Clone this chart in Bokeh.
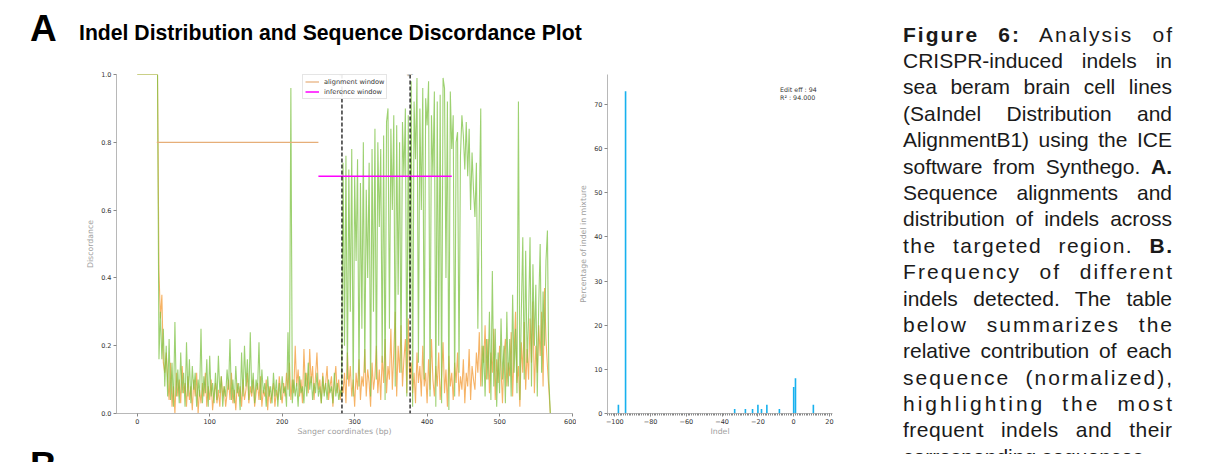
from bokeh.plotting import figure
from bokeh.models import (Span, Label, Legend, LegendItem, Div,
                          SingleIntervalTicker, NumeralTickFormatter, Range1d)
from bokeh.layouts import row, column
from bokeh.embed import file_html
from bokeh.resources import INLINE

# ---------------- data: discordance plot ----------------
# Sanger coordinates (bp), one value every 2 bp
bp = list(range(0, 572, 2))

# discordance of the edited sample (green)
edited = [
    1.0, 1.0, 1.0, 1.0, 1.0, 1.0, 1.0, 1.0, 1.0, 1.0, 1.0, 1.0, 1.0, 1.0, 1.0,
    0.16, 0.30, 0.16, 0.25, 0.08, 0.20, 0.05, 0.22, 0.04, 0.15,
    0.02, 0.27, 0.05, 0.13, 0.03, 0.18, 0.06, 0.12, 0.02, 0.21,
    0.05, 0.16, 0.03, 0.14, 0.07, 0.12, 0.02, 0.10, 0.05, 0.25,
    0.03, 0.11, 0.06, 0.16, 0.02, 0.17, 0.05, 0.09, 0.03, 0.12,
    0.04, 0.17, 0.06, 0.11, 0.02, 0.08, 0.05, 0.13, 0.07, 0.22,
    0.04, 0.10, 0.03, 0.14, 0.06, 0.09, 0.01, 0.18, 0.05, 0.20,
    0.08, 0.16, 0.04, 0.24, 0.06, 0.12, 0.03, 0.10, 0.07, 0.21,
    0.04, 0.13, 0.06, 0.09, 0.02, 0.11, 0.05, 0.08, 0.03, 0.12,
    0.05, 0.10, 0.02, 0.09, 0.04, 0.11, 0.06, 0.08, 0.02, 0.24,
    0.05, 0.96, 0.03, 0.10, 0.05, 0.09, 0.02, 0.11, 0.06, 0.08,
    0.03, 0.12, 0.05, 0.15, 0.07, 0.11, 0.04, 0.09, 0.06, 0.12,
    0.05, 0.08, 0.03, 0.11, 0.05, 0.09, 0.04, 0.10, 0.06, 0.08,
    0.03, 0.12, 0.05, 0.09, 0.04, 0.07, 0.05,
    0.74, 0.20, 0.76, 0.10, 0.72, 0.30, 0.78, 0.05, 0.70, 0.45,
    0.75, 0.08, 0.68, 0.25, 0.80, 0.12, 0.66, 0.40, 0.74, 0.05,
    0.78, 0.30, 0.84, 0.10, 0.80, 0.55, 0.78, 0.15, 0.82, 0.04,
    0.86, 0.90, 0.25, 0.84, 0.60, 0.88, 0.08, 0.85, 0.35, 0.80,
    0.12, 0.86, 0.70, 0.90, 0.05, 0.88, 0.30,
    0.98, 0.02, 0.92, 0.75, 0.99, 0.15, 0.90, 0.60, 0.96, 0.10,
    0.93, 0.85, 0.98, 0.05, 0.88, 0.70, 0.95, 0.02, 0.92, 0.20,
    0.94, 0.03, 0.99, 0.96, 0.40, 0.92, 0.01, 0.95, 0.78, 0.88,
    0.05, 0.80, 0.83, 0.12, 0.76, 0.88, 0.82, 0.72, 0.86, 0.70,
    0.84, 0.60, 0.77, 0.66, 0.58, 0.74, 0.25, 0.60, 0.90, 0.08,
    0.20,
    0.05, 0.22, 0.10, 0.30, 0.04, 0.42, 0.08, 0.25, 0.02, 0.18,
    0.06, 0.28, 0.10, 0.20, 0.03, 0.30, 0.08, 0.22, 0.05, 0.35,
    0.12, 0.25, 0.06, 0.92, 0.04, 0.30, 0.52, 0.10, 0.48, 0.15,
    0.28, 0.52, 0.08, 0.44, 0.20, 0.38, 0.05, 0.32, 0.50, 0.12,
    0.36, 0.20, 0.45, 0.54, 0.10, 0.00,
]

# discordance of the control sample (orange)
control = [
    1.0, 1.0, 1.0, 1.0, 1.0, 1.0, 1.0, 1.0, 1.0, 1.0, 1.0, 1.0, 1.0, 1.0, 1.0,
    0.42, 0.28, 0.35, 0.15, 0.12, 0.18, 0.10, 0.04, 0.15, 0.02,
    0.08, 0.00, 0.12, 0.05, 0.10, 0.03, 0.14, 0.06, 0.09, 0.02,
    0.11, 0.04, 0.08, 0.01, 0.10, 0.05, 0.12, 0.00, 0.07, 0.03,
    0.09, 0.05, 0.12, 0.02, 0.08, 0.04, 0.10, 0.01, 0.06, 0.09,
    0.03, 0.07, 0.02, 0.11, 0.05, 0.08, 0.02, 0.06, 0.10, 0.04,
    0.12, 0.03, 0.07, 0.01, 0.09, 0.05, 0.08, 0.02, 0.10, 0.04,
    0.07, 0.12, 0.03, 0.08, 0.05, 0.10, 0.02, 0.06, 0.09, 0.04,
    0.11, 0.02, 0.07, 0.05, 0.10, 0.01, 0.08, 0.03, 0.06, 0.09,
    0.02, 0.07, 0.04, 0.11, 0.06, 0.03, 0.09, 0.05, 0.12, 0.07,
    0.15, 0.04, 0.10, 0.06, 0.20, 0.08, 0.13, 0.05, 0.10, 0.03,
    0.19, 0.08, 0.12, 0.06, 0.19, 0.09, 0.14, 0.04, 0.11, 0.18,
    0.07, 0.10, 0.03, 0.12, 0.06, 0.09, 0.14, 0.04, 0.08, 0.11,
    0.02, 0.09, 0.14, 0.06, 0.10, 0.04, 0.08,
    0.06, 0.12, 0.03, 0.18, 0.08, 0.14, 0.05, 0.10, 0.02, 0.12,
    0.07, 0.16, 0.04, 0.11, 0.08, 0.19, 0.05, 0.13, 0.09, 0.02,
    0.15, 0.07, 0.11, 0.20, 0.06, 0.13, 0.04, 0.17, 0.09, 0.22,
    0.06, 0.14, 0.10, 0.25, 0.07, 0.18, 0.30, 0.05, 0.20, 0.12,
    0.26, 0.08, 0.16, 0.22, 0.06, 0.28, 0.10,
    0.15, 0.06, 0.12, 0.03, 0.18, 0.09, 0.14, 0.05, 0.20, 0.08,
    0.12, 0.03, 0.16, 0.07, 0.22, 0.10, 0.05, 0.14, 0.08, 0.18,
    0.04, 0.11, 0.21, 0.06, 0.13, 0.02, 0.17, 0.08, 0.12, 0.04,
    0.15, 0.09, 0.18, 0.05, 0.11, 0.07, 0.16, 0.03, 0.12, 0.08,
    0.19, 0.04, 0.14, 0.10, 0.07, 0.18, 0.12, 0.24, 0.08, 0.20,
    0.15,
    0.26, 0.10, 0.22, 0.06, 0.18, 0.12, 0.25, 0.04, 0.16, 0.09,
    0.20, 0.13, 0.03, 0.17, 0.22, 0.08, 0.15, 0.11, 0.24, 0.05,
    0.18, 0.30, 0.09, 0.14, 0.02, 0.21, 0.12, 0.27, 0.07, 0.19,
    0.10, 0.28, 0.15, 0.33, 0.06, 0.20, 0.12, 0.26, 0.17, 0.30,
    0.08, 0.37, 0.22, 0.14, 0.07, 0.00,
]

alignment_window = [27, 250]
alignment_level = 0.8
inference_window = [250, 434]
inference_level = 0.7
cut_sites = [282.5, 376.5]
cut_labels = ["g2", "g1"]

# ---------------- data: indel distribution ----------------
indel_size = [-98, -94, -33, -27, -23, -20, -18, -15, -8, 0, 1, 11]
indel_pct = [2, 73, 1, 1, 1, 2, 1, 2, 1, 6, 8, 2]
edit_text = ["Edit eff : 94", "R\u00b2 : 94.000"]
x2_ticks = [-100, -80, -60, -40, -20, 0, 20]

# ---------------- text ----------------
panel_a = "A"
panel_b = "B"
title = "Indel Distribution and Sequence Discordance Plot"
caption_lines = [
    "<b>Figure 6:</b> Analysis of",
    "CRISPR-induced indels in",
    "sea beram brain cell lines",
    "(SaIndel Distribution and",
    "AlignmentB1) using the ICE",
    "software from Synthego. <b>A.</b>",
    "Sequence alignments and",
    "distribution of indels across",
    "the targeted region. <b>B.</b>",
    "Frequency of different",
    "indels detected. The table",
    "below summarizes the",
    "relative contribution of each",
    "sequence (normalized),",
    "highlighting the most",
    "frequent indels and their",
    "corresponding sequences.",
]
caption_spacing = [2, 0, 0, 0, 0, 0, 0, 0, 1.5, 2.1, 0, 2, 0, 2, 3, 0.5, 0]

AX_FONT = "DejaVu Sans"


def style_axis(ax, label, label_standoff):
    ax.axis_label = label
    ax.axis_label_text_font = AX_FONT
    ax.axis_label_text_font_size = "7.8px"
    ax.axis_label_text_font_style = "normal"
    ax.axis_label_text_color = "#a0a0a0"
    ax.axis_label_standoff = label_standoff
    ax.major_label_text_font = AX_FONT
    ax.major_label_text_font_size = "6.5px"
    ax.major_label_text_color = "#333333"
    ax.major_label_standoff = 2
    ax.axis_line_color = "#b8b8b8"
    ax.axis_line_width = 1
    ax.major_tick_line_color = "#888888"
    ax.major_tick_in = 0
    ax.major_tick_out = 3
    ax.minor_tick_line_color = None


# ---------------- discordance figure ----------------
p1 = figure(width=568, height=385,
            x_range=Range1d(-28.6, 600.6), y_range=Range1d(0, 1.0),
            output_backend="svg", toolbar_location=None,
            min_border_left=108, min_border_right=4,
            min_border_top=14, min_border_bottom=32)
p1.outline_line_color = None
p1.grid.visible = False
p1.background_fill_color = "white"
p1.border_fill_color = "white"

style_axis(p1.xaxis[0], "Sanger coordinates (bp)", 0)
style_axis(p1.yaxis[0], "Discordance", 3)
p1.xaxis.ticker = SingleIntervalTicker(interval=100, num_minor_ticks=0)
p1.yaxis.ticker = SingleIntervalTicker(interval=0.2, num_minor_ticks=0)
p1.yaxis.formatter = NumeralTickFormatter(format="0.0")

p1.line(bp, control, line_color="#f4a040", line_alpha=0.8, line_width=1.1)
p1.line(bp, edited, line_color="#7cc142", line_alpha=0.75, line_width=1.1)
r_align = p1.line(alignment_window, [alignment_level] * 2,
                  line_color="#e6ae78", line_width=1.2)
r_inf = p1.line(inference_window, [inference_level] * 2,
                line_color="#ff00ff", line_width=1.5)

for loc, lab in zip(cut_sites, cut_labels):
    p1.add_layout(Span(location=loc, dimension="height", line_color="black",
                       line_dash="4 2", line_width=1.2))
    p1.add_layout(Label(x=loc, y=1.0, text=lab, text_align="center",
                        text_baseline="bottom", y_offset=-1,
                        text_font=AX_FONT, text_font_size="5.5px",
                        text_color="#555555"))

legend = Legend(items=[LegendItem(label="alignment window", renderers=[r_align]),
                       LegendItem(label="inference window", renderers=[r_inf])],
                location=(186, 314), orientation="vertical",
                label_text_font=AX_FONT, label_text_font_size="6.6px",
                label_text_color="#333333", label_height=9, glyph_height=9,
                glyph_width=14, label_standoff=5, spacing=1, padding=2,
                margin=0, border_line_color="#cccccc", border_line_width=0.8,
                background_fill_alpha=0.9)
p1.add_layout(legend)

# ---------------- indel figure ----------------
p2 = figure(width=276, height=385,
            x_range=Range1d(-104.1, 21.7), y_range=Range1d(0, 76.8),
            output_backend="svg", toolbar_location=None,
            min_border_left=28, min_border_right=20,
            min_border_top=13, min_border_bottom=31)
p2.outline_line_color = None
p2.grid.visible = False
p2.background_fill_color = "white"
p2.border_fill_color = "white"

style_axis(p2.xaxis[0], "Indel", 0)
style_axis(p2.yaxis[0], "Percentage of indel in mixture", 3)
p2.xaxis.ticker = SingleIntervalTicker(interval=20, num_minor_ticks=20)
p2.xaxis.minor_tick_line_color = "#888888"
p2.xaxis.minor_tick_in = 0
p2.xaxis.minor_tick_out = 2
p2.xaxis.major_label_overrides = {t: (("\u2212" + str(-t)) if t < 0 else str(t))
                                  for t in x2_ticks}
p2.yaxis.ticker = SingleIntervalTicker(interval=10, num_minor_ticks=0)

p2.vbar(x=indel_size, top=indel_pct, width=0.9, fill_color="#17b1ee",
        line_color=None)

p2.add_layout(Label(x=-7.6, y=73.5, text=edit_text[0], text_baseline="middle",
                    text_font=AX_FONT, text_font_size="6.3px",
                    text_color="#333333"))
p2.add_layout(Label(x=-7.6, y=71.6, text=edit_text[1], text_baseline="middle",
                    text_font=AX_FONT, text_font_size="6.3px",
                    text_color="#333333"))

# ---------------- page texts ----------------
FONT = "'Liberation Sans', Arial, Helvetica, sans-serif"

header = Div(width=844, height=52, margin=0, text=(
    '<div style="position:relative;width:844px;height:52px;">'
    f'<span style="position:absolute;left:22px;top:2px;font:bold 37px/37px {FONT};color:#000;">{panel_a}</span>'
    f'<span style="position:absolute;left:71px;top:14px;font:bold 21.2px/21.2px {FONT};color:#000;white-space:nowrap;">{title}</span>'
    '</div>'))

bdiv = Div(width=844, height=9, margin=0, styles={"overflow": "visible"}, text=(
    '<div style="position:relative;width:844px;height:9px;overflow:visible;">'
    f'<span style="position:absolute;left:22px;top:-1px;font:bold 37px/37px {FONT};color:#000;">{panel_b}</span>'
    '</div>'))

line_html = []
n = len(caption_lines)
for i, (txt, ls) in enumerate(zip(caption_lines, caption_spacing)):
    last = "left" if i == n - 1 else "justify"
    line_html.append(
        f'<div style="width:{269 + ls}px;height:26.4px;line-height:26.4px;'
        f'text-align:justify;text-align-last:{last};letter-spacing:{ls}px;">{txt}</div>')

caption = Div(width=349, height=446, margin=0, styles={"overflow": "hidden"}, text=(
    '<div style="position:relative;width:349px;height:446px;overflow:hidden;">'
    f'<div style="position:absolute;left:51px;top:13.6px;font:21px {FONT};color:#1a1a1a;">'
    + "".join(line_html) +
    '</div></div>'))

left = column(header, row(p1, p2), bdiv)
root = row(left, caption, margin=(8, 0, 0, 8))

open("out.html", "w").write(file_html(root, INLINE))
